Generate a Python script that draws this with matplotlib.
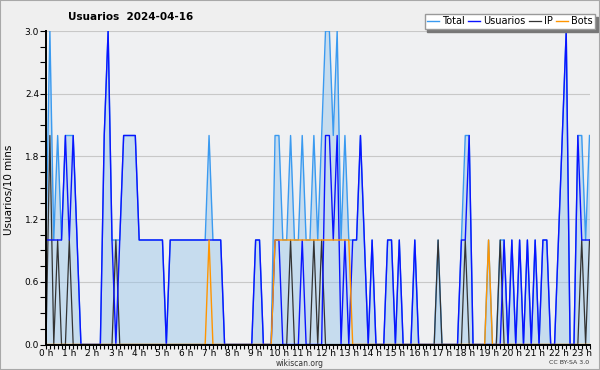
import matplotlib
matplotlib.use('Agg')
import matplotlib.pyplot as plt
from matplotlib.ticker import MultipleLocator, FormatStrFormatter
from matplotlib.patches import Rectangle
import numpy as np

#
# Data: one value per 10 minutes, from 0:00 to 23:20.
#

title = 'Usuarios  2024-04-16'
ylabel = 'Usuarios/10 mins'
hours = list(range(24))
hour_labels = ['%d h' % h for h in hours]

total = [1, 3, 1, 2, 1, 2, 2, 2, 1, 0,
         0, 0, 0, 0, 0, 2, 3, 1, 1, 1,
         2, 2, 2, 2, 1, 1, 1, 1, 1, 1,
         1, 0, 1, 1, 1, 1, 1, 1, 1, 1,
         1, 1, 2, 1, 1, 1, 0, 0, 0, 0,
         0, 0, 0, 0, 1, 1, 0, 0, 0, 2,
         2, 1, 1, 2, 1, 1, 2, 1, 1, 2,
         1, 2, 3, 3, 2, 3, 1, 2, 1, 1,
         1, 2, 1, 0, 1, 0, 0, 0, 1, 1,
         0, 1, 0, 0, 0, 1, 0, 0, 0, 0,
         0, 1, 0, 0, 0, 0, 0, 1, 2, 2,
         0, 0, 0, 0, 1, 0, 0, 1, 1, 0,
         1, 0, 1, 0, 1, 0, 1, 0, 1, 1,
         0, 0, 1, 2, 3, 0, 0, 2, 2, 1,
         2]

usuarios = [1, 1, 1, 1, 1, 2, 1, 2, 1, 0,
            0, 0, 0, 0, 0, 2, 3, 1, 0, 1,
            2, 2, 2, 2, 1, 1, 1, 1, 1, 1,
            1, 0, 1, 1, 1, 1, 1, 1, 1, 1,
            1, 1, 1, 1, 1, 1, 0, 0, 0, 0,
            0, 0, 0, 0, 1, 1, 0, 0, 0, 1,
            1, 0, 0, 0, 0, 0, 1, 0, 0, 0,
            0, 0, 2, 2, 1, 2, 0, 1, 0, 1,
            1, 2, 1, 0, 1, 0, 0, 0, 1, 1,
            0, 1, 0, 0, 0, 1, 0, 0, 0, 0,
            0, 0, 0, 0, 0, 0, 0, 1, 1, 2,
            0, 0, 0, 0, 0, 0, 0, 0, 1, 0,
            1, 0, 1, 0, 1, 0, 1, 0, 1, 1,
            0, 0, 1, 2, 3, 0, 0, 2, 1, 1,
            1]

ip = [0, 2, 0, 1, 0, 0, 1, 0, 0, 0,
      0, 0, 0, 0, 0, 0, 0, 0, 1, 0,
      0, 0, 0, 0, 0, 0, 0, 0, 0, 0,
      0, 0, 0, 0, 0, 0, 0, 0, 0, 0,
      0, 0, 0, 0, 0, 0, 0, 0, 0, 0,
      0, 0, 0, 0, 0, 0, 0, 0, 0, 0,
      0, 0, 0, 1, 0, 0, 0, 0, 0, 1,
      0, 1, 0, 0, 0, 0, 0, 0, 0, 0,
      0, 0, 0, 0, 0, 0, 0, 0, 0, 0,
      0, 0, 0, 0, 0, 0, 0, 0, 0, 0,
      0, 1, 0, 0, 0, 0, 0, 0, 1, 0,
      0, 0, 0, 0, 0, 0, 0, 1, 0, 0,
      0, 0, 0, 0, 0, 0, 0, 0, 0, 0,
      0, 0, 0, 0, 0, 0, 0, 0, 1, 0,
      1]

bots = [0, 0, 0, 0, 0, 0, 0, 0, 0, 0,
        0, 0, 0, 0, 0, 0, 0, 0, 0, 0,
        0, 0, 0, 0, 0, 0, 0, 0, 0, 0,
        0, 0, 0, 0, 0, 0, 0, 0, 0, 0,
        0, 0, 1, 0, 0, 0, 0, 0, 0, 0,
        0, 0, 0, 0, 0, 0, 0, 0, 0, 1,
        1, 1, 1, 1, 1, 1, 1, 1, 1, 1,
        1, 1, 1, 1, 1, 1, 1, 1, 1, 0,
        0, 0, 0, 0, 0, 0, 0, 0, 0, 0,
        0, 0, 0, 0, 0, 0, 0, 0, 0, 0,
        0, 0, 0, 0, 0, 0, 0, 0, 0, 0,
        0, 0, 0, 0, 1, 0, 0, 0, 0, 0,
        0, 0, 0, 0, 0, 0, 0, 0, 0, 0,
        0, 0, 0, 0, 0, 0, 0, 0, 0, 0,
        0]

slots = np.arange(len(total))

#
# Figure.
#

fig = plt.figure(figsize=(6, 3.7), dpi=100, facecolor='#efefef')
fig.patches.append(Rectangle((0, 0), 1, 1, transform=fig.transFigure,
                             fill=False, edgecolor='#a8a8a8', lw=1.5))

ax = fig.add_axes([46 / 600, 1 - 344.5 / 370, (589.5 - 46) / 600, (344.5 - 31) / 370])
ax.set_facecolor('#eff0f2')

ax.fill_between(slots, total, 0, color='#96c4eb', alpha=0.45, lw=0, zorder=2)
l_total, = ax.plot(slots, total, color='#3a9af0', lw=1.0, zorder=3, label='Total')
l_ip, = ax.plot(slots, ip, color='#333333', lw=0.9, zorder=4, label='IP')
l_user, = ax.plot(slots, usuarios, color='#0a14ff', lw=1.0, zorder=5, label='Usuarios')
l_bots, = ax.plot(slots, bots, color='#ff9500', lw=1.0, zorder=6, label='Bots')

ax.set_xlim(0, len(total) - 1)
ax.set_ylim(0, 3.0)

# axes and ticks
for s in ['top', 'right']:
    ax.spines[s].set_visible(False)
for s in ['left', 'bottom']:
    ax.spines[s].set_color('black')
    ax.spines[s].set_linewidth(1.4)
    ax.spines[s].set_zorder(7)

ax.set_xticks([h * 6 for h in hours])
ax.set_xticklabels(hour_labels)
ax.xaxis.set_minor_locator(MultipleLocator(1))
ax.yaxis.set_major_locator(MultipleLocator(0.6))
ax.yaxis.set_minor_locator(MultipleLocator(0.15))
ax.yaxis.set_major_formatter(FormatStrFormatter('%.1f'))
ax.tick_params(axis='both', which='both', direction='out', color='black', width=0.8)
ax.tick_params(axis='x', which='both', length=3, labelsize=6.5, pad=0)
ax.tick_params(axis='y', which='both', length=4, labelsize=6.5, pad=1)

ax.grid(axis='y', which='major', color='#c8c8c8', lw=0.8, zorder=1)
ax.set_axisbelow(True)

# texts
fig.text(131 / 600, 1 - 17 / 370, title, ha='center', va='center',
         fontsize=7.5, fontweight='bold')
fig.text(9 / 600, 1 - 190 / 370, ylabel, rotation=90, ha='center', va='center',
         fontsize=7.5)
fig.text(300 / 600, 1 - 363 / 370, 'wikiscan.org', ha='center', va='center',
         fontsize=5.5, color='#333333')
fig.text(589 / 600, 1 - 363 / 370, 'CC BY-SA 3.0', ha='right', va='center',
         fontsize=4.5, color='#333333')

leg = ax.legend(handles=[l_total, l_user, l_ip, l_bots], ncol=4, loc='upper right',
                bbox_to_anchor=(595 / 600, 1 - 14 / 370), bbox_transform=fig.transFigure,
                fontsize=7, handlelength=1.2, handletextpad=0.3, columnspacing=0.4,
                borderpad=0.25, borderaxespad=0, fancybox=False, edgecolor='#999999',
                framealpha=1, shadow={'color': '#777777', 'alpha': 1})
leg.set_zorder(10)

fig.savefig('out.png', dpi=100, facecolor=fig.get_facecolor())
